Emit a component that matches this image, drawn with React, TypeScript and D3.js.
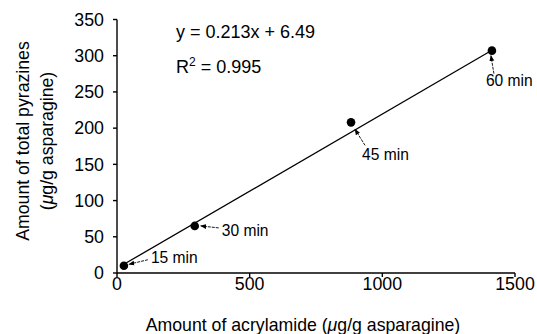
import React from "react";
import * as d3 from "d3";

// Amount of acrylamide vs. total pyrazines at four heating times
const times = ["15 min", "30 min", "45 min", "60 min"];
const acrylamide = [26, 293, 882, 1413];
const pyrazines = [10, 65, 208, 307];

const slope = 0.213;
const intercept = 6.49;
const rSquared = 0.995;

const xTicks = [0, 500, 1000, 1500];
const yTicks = [0, 50, 100, 150, 200, 250, 300, 350];

// label placement relative to each point: arrow start (dx1, dy1) -> arrow tip (dx2, dy2), text anchor (tx, ty)
const labelOffsets = [
  { dx1: 24, dy1: -6, dx2: 5, dy2: -1.5, tx: 27, ty: -3 },
  { dx1: 24, dy1: 2, dx2: 6, dy2: 0, tx: 27, ty: 10 },
  { dx1: 14, dy1: 23, dx2: 4, dy2: 7, tx: 11, ty: 38 },
  { dx1: 2, dy1: 23, dx2: -1, dy2: 5, tx: -6, ty: 35 },
];

const W = 537;
const H = 334;
const FONT = "'Liberation Sans', Arial, Helvetica, sans-serif";

export default function App() {
  const x = d3.scaleLinear().domain([0, 1500]).range([117, 515]);
  const y = d3.scaleLinear().domain([0, 350]).range([273, 19.5]);

  const xMin = d3.min(acrylamide) as number;
  const xMax = d3.max(acrylamide) as number;
  const fit = d3
    .line<number>()
    .x((d) => x(d))
    .y((d) => y(slope * d + intercept));

  return (
    <svg
      width={W}
      height={H}
      viewBox={`0 0 ${W} ${H}`}
      style={{ position: "absolute", left: 0, top: 0, background: "#fff" }}
      fontFamily={FONT}
    >
      <defs>
        <marker
          id="tip"
          viewBox="0 0 10 10"
          refX="9"
          refY="5"
          markerWidth="6"
          markerHeight="6"
          orient="auto"
          markerUnits="userSpaceOnUse"
        >
          <path d="M0,1 L10,5 L0,9 Z" fill="#000" />
        </marker>
      </defs>

      {/* axes */}
      <line x1={x(0)} x2={x(1500)} y1={y(0)} y2={y(0)} stroke="#000" strokeWidth={1.4} />
      <line x1={x(0)} x2={x(0)} y1={y(0)} y2={y(350)} stroke="#000" strokeWidth={1.4} />

      {xTicks.map((t) => (
        <g key={`x${t}`}>
          <line x1={x(t)} x2={x(t)} y1={y(0)} y2={y(0) + 4} stroke="#000" strokeWidth={1.4} />
          <text x={x(t)} y={290} textAnchor="middle" fontSize={17.8}>
            {t}
          </text>
        </g>
      ))}

      {yTicks.map((t) => (
        <g key={`y${t}`}>
          <line x1={x(0) - 4} x2={x(0)} y1={y(t)} y2={y(t)} stroke="#000" strokeWidth={1.4} />
          <text x={104} y={y(t) + 6.3} textAnchor="end" fontSize={17.8}>
            {t}
          </text>
        </g>
      ))}

      {/* axis titles */}
      <text x={303} y={331} textAnchor="middle" fontSize={17.7}>
        Amount of acrylamide (<tspan fontStyle="italic">μ</tspan>g/g asparagine)
      </text>
      <g transform="translate(29,141) rotate(-90)">
        <text x={0} y={0} textAnchor="middle" fontSize={17.7}>
          Amount of total pyrazines
        </text>
        <text x={0} y={24} textAnchor="middle" fontSize={17.7}>
          (<tspan fontStyle="italic">μ</tspan>g/g asparagine)
        </text>
      </g>

      {/* regression */}
      <path d={fit([xMin, xMax]) ?? ""} fill="none" stroke="#000" strokeWidth={1.3} />
      <text x={176} y={38} fontSize={18}>
        y = {slope}x + {intercept}
      </text>
      <text x={176} y={73} fontSize={18}>
        R<tspan fontSize={12} dy={-7}>2</tspan>
        <tspan dy={7}> = {rSquared}</tspan>
      </text>

      {/* points and time labels */}
      {acrylamide.map((a, i) => {
        const px = x(a);
        const py = y(pyrazines[i]);
        const o = labelOffsets[i];
        return (
          <g key={times[i]}>
            <circle cx={px} cy={py} r={4.3} fill="#000" />
            <line
              x1={px + o.dx1}
              y1={py + o.dy1}
              x2={px + o.dx2}
              y2={py + o.dy2}
              stroke="#000"
              strokeWidth={0.9}
              strokeDasharray="3,1"
              markerEnd="url(#tip)"
            />
            <text x={px + o.tx} y={py + o.ty} fontSize={15.6}>
              {times[i]}
            </text>
          </g>
        );
      })}
    </svg>
  );
}
